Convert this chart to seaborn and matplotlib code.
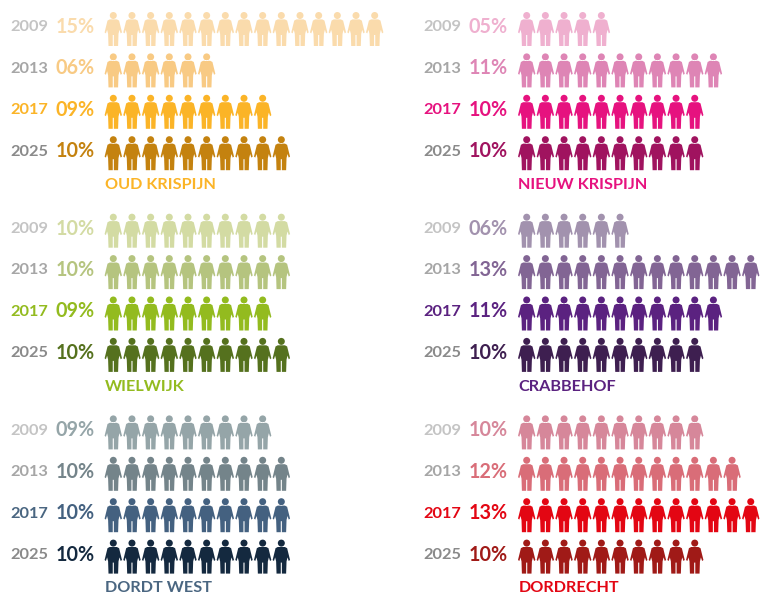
import matplotlib
matplotlib.use("Agg")
import matplotlib.pyplot as plt
import seaborn as sns
import pandas as pd
from matplotlib.path import Path

sns.set_theme(style="white")
plt.rcParams["font.family"] = ["Lato", "DejaVu Sans"]

# ---- data ----
years = ["2009", "2013", "2017", "2025"]
oud_krispijn = [15, 6, 9, 10]
nieuw_krispijn = [5, 11, 10, 10]
wielwijk = [10, 10, 9, 10]
crabbehof = [6, 13, 11, 10]
dordt_west = [9, 10, 10, 10]
dordrecht = [10, 12, 13, 10]

names = ["OUD KRISPIJN", "NIEUW KRISPIJN", "WIELWIJK", "CRABBEHOF", "DORDT WEST", "DORDRECHT"]
values = [oud_krispijn, nieuw_krispijn, wielwijk, crabbehof, dordt_west, dordrecht]

# ---- colours ----
colors = [
    ["#FADBAC", "#F8CA84", "#FBB427", "#C4820F"],
    ["#EFB0CF", "#DE85B5", "#E6127F", "#A0135F"],
    ["#D3DBA3", "#B5C47F", "#93BB1F", "#55711E"],
    ["#A292AE", "#826594", "#5B2280", "#3E1F50"],
    ["#95A5A8", "#74848A", "#446180", "#14293F"],
    ["#D6879A", "#D96D78", "#E30613", "#A01A17"],
]
title_colors = ["#FBB427", "#E6127F", "#93BB1F", "#5B2280", "#4A6681", "#E30613"]
year_greys = ["#C4C4C4", "#A6A6A6", None, "#8A8A8A"]

# ---- pictogram marker (units: px, centred) ----
half = [(0, 9.6), (3.6, 9.6), (5.8, 8.4), (8.7, -3.4), (7.4, -4.4), (6.2, -0.8),
        (5.2, -4.8), (4.8, -17), (0.55, -17), (0.55, -6)]
outline = half + [(-x, y) for x, y in reversed(half[1:])]
body = Path(outline + [outline[0]], closed=True)
head = Path.circle((0, 13.5), 3.5)
person = Path.make_compound_path(body, head)

W, H = 760, 595
PITCH_X, PITCH_Y = 18.67, 41.4
PANEL_W, PANEL_H = 413.4, 201.7
X0, Y0 = 113.3, 29.0
size_pt = 34 * 72 / 100

fig = plt.figure(figsize=(W / 100, H / 100), dpi=100, facecolor="white")

for i, (name, vals, cols) in enumerate(zip(names, values, colors)):
    col, row = i % 2, i // 2
    left, top = col * PANEL_W, row * PANEL_H
    ax = fig.add_axes([left / W, 1 - (top + PANEL_H) / H, PANEL_W / W, PANEL_H / H])
    ax.patch.set_alpha(0)
    ax.axis("off")

    df = pd.DataFrame(
        [{"person": p, "row": r, "year": years[r]} for r, v in enumerate(vals) for p in range(v)]
    )
    sns.scatterplot(
        data=df, x="person", y="row", hue="year",
        palette=dict(zip(years, cols)), marker=person, s=size_pt ** 2,
        linewidth=0, edgecolor="none", legend=False, ax=ax, clip_on=False,
    )
    ax.set_xlim(-X0 / PITCH_X, (PANEL_W - X0) / PITCH_X)
    ax.set_ylim((PANEL_H - Y0) / PITCH_Y, -Y0 / PITCH_Y)

    for r, (y, v, c) in enumerate(zip(years, vals, cols)):
        yc = year_greys[r] or title_colors[i]
        ax.text(-3.5, r - 0.04, y, ha="right", va="center", color=yc,
                fontsize=11.8, fontweight="bold")
        ax.text(-1.0, r - 0.05, f"{v:02d}%", ha="right", va="center", color=c,
                fontsize=14.2, fontweight="bold")
    ax.text(-0.445, 3.77, name, ha="left", va="center", color=title_colors[i],
            fontsize=11.7, fontweight="bold")

fig.savefig("out.png", dpi=100, facecolor="white")
